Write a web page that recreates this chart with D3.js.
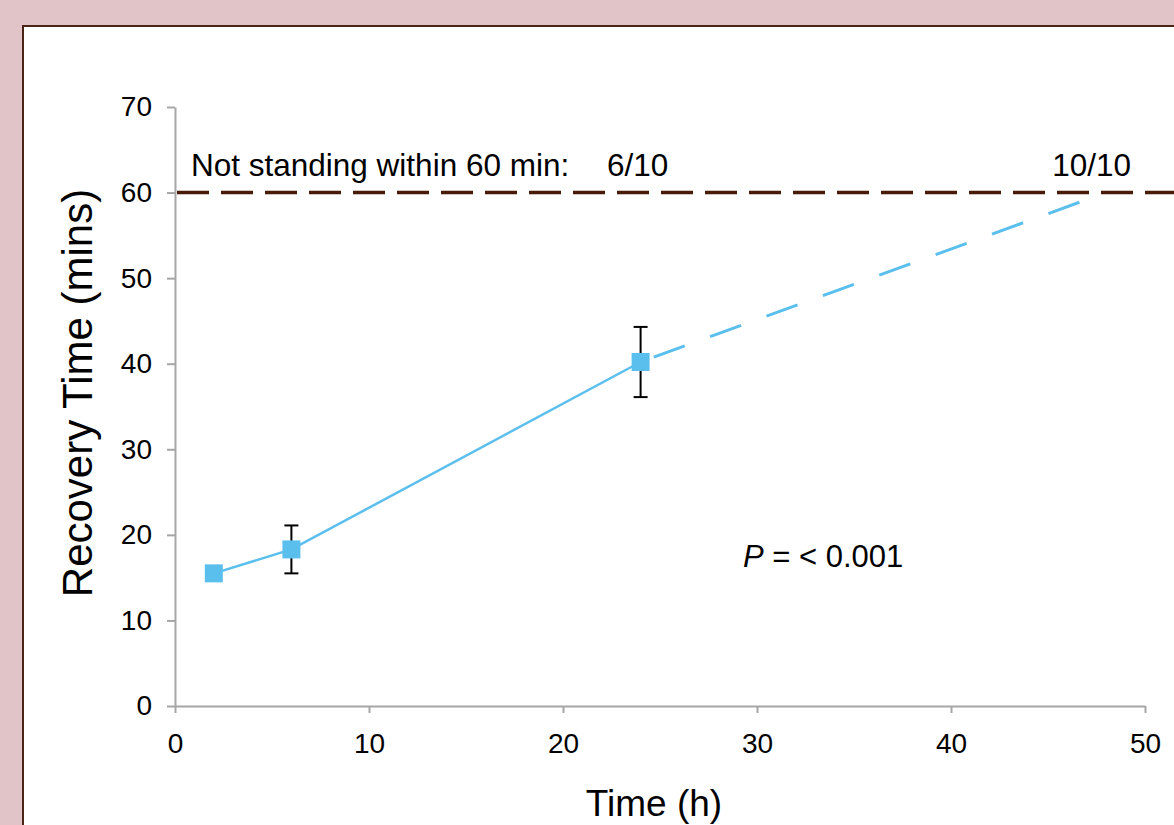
<!DOCTYPE html>
<html>
<head>
<meta charset="utf-8">
<script src="https://cdn.jsdelivr.net/npm/d3@7"></script>
<style>
	body{margin:0;background:#e0c4c8;font-family:"Liberation Sans",Arial,sans-serif;}
	#chart{width:1174px;height:825px;}
</style>
</head>
<body>
<div id="chart"></div>
<script>
// measured points
var times=[2,6,24]
var recovery=[15.5,18.3,40.2]
var errors=[0,2.8,4.1]
// projected line toward the 60 min cutoff
var projTimes=[24,46.9]
var projRecovery=[40.2,59.1]
var cutoff=60
var xTicks=[0,10,20,30,40,50]
var yTicks=[0,10,20,30,40,50,60,70]

var svg=d3.select("#chart").append("svg")
	.attr("width",1174)
	.attr("height",825)
	.attr("font-family","Liberation Sans, Arial, sans-serif")

// white panel
svg.append("rect")
	.attr("x",23).attr("y",26)
	.attr("width",1200).attr("height",900)
	.attr("fill","white")
	.attr("stroke","#4a2418")
	.attr("stroke-width",2)

var x=d3.scaleLinear().domain([0,50]).range([175,1145])
var y=d3.scaleLinear().domain([0,70]).range([706,107])

var gx=svg.append("g")
	.attr("transform","translate(0,"+y(0)+")")
	.call(d3.axisBottom(x).tickValues(xTicks).tickSize(7).tickSizeOuter(0).tickPadding(20))
var gy=svg.append("g")
	.attr("transform","translate("+x(0)+",0)")
	.call(d3.axisLeft(y).tickValues(yTicks).tickSize(8).tickSizeOuter(0).tickPadding(15))

svg.selectAll(".domain,.tick line").attr("stroke","#a6a6a6").attr("stroke-width",2)
svg.selectAll(".tick text").attr("font-size",28).attr("fill","black")
	.attr("font-family","Liberation Sans, Arial, sans-serif")
gx.selectAll(".tick text").attr("dy","0.71em")

// cutoff line
svg.append("line")
	.attr("x1",x(0)+2).attr("x2",1174)
	.attr("y1",y(cutoff)).attr("y2",y(cutoff))
	.attr("stroke","#4a1a08")
	.attr("stroke-width",3.5)
	.attr("stroke-dasharray","32,12")

var pts=times.map((t,i)=>({t:t,v:recovery[i],e:errors[i]}))
var line=d3.line().x(d=>x(d.t)).y(d=>y(d.v))

svg.append("path")
	.datum(projTimes.map((t,i)=>({t:t,v:projRecovery[i]})))
	.attr("d",line)
	.attr("fill","none")
	.attr("stroke","#5bbfee")
	.attr("stroke-width",3)
	.attr("stroke-dasharray","0,14,33,13")

svg.append("path")
	.datum(pts)
	.attr("d",line)
	.attr("fill","none")
	.attr("stroke","#5bbfee")
	.attr("stroke-width",2.5)

// error bars
var eb=svg.selectAll(".err").data(pts.filter(d=>d.e>0)).enter().append("g")
eb.append("line")
	.attr("x1",d=>x(d.t)).attr("x2",d=>x(d.t))
	.attr("y1",d=>y(d.v+d.e)).attr("y2",d=>y(d.v-d.e))
	.attr("stroke","black").attr("stroke-width",2)
eb.selectAll(".cap").data(d=>[d.v+d.e,d.v-d.e].map(v=>({t:d.t,v:v}))).enter().append("line")
	.attr("x1",d=>x(d.t)-7).attr("x2",d=>x(d.t)+7)
	.attr("y1",d=>y(d.v)).attr("y2",d=>y(d.v))
	.attr("stroke","black").attr("stroke-width",2)

svg.selectAll(".pt").data(pts).enter().append("rect")
	.attr("x",d=>x(d.t)-9).attr("y",d=>y(d.v)-9)
	.attr("width",18).attr("height",18)
	.attr("fill","#5bbfee")

// labels
svg.append("text").attr("x",191).attr("y",176)
	.attr("font-size",31.5).text("Not standing within 60 min:")
svg.append("text").attr("x",607).attr("y",176)
	.attr("font-size",31.5).text("6/10")
svg.append("text").attr("x",1131).attr("y",176).attr("text-anchor","end")
	.attr("font-size",31.5).text("10/10")

var p=svg.append("text").attr("x",743).attr("y",567).attr("font-size",31)
p.append("tspan").attr("font-style","italic").text("P")
p.append("tspan").text(" = < 0.001")

svg.append("text")
	.attr("transform","translate(92,"+393+") rotate(-90)")
	.attr("text-anchor","middle")
	.attr("font-size",42)
	.text("Recovery Time (mins)")
svg.append("text")
	.attr("x",654).attr("y",816)
	.attr("text-anchor","middle")
	.attr("font-size",37)
	.text("Time (h)")
</script>
</body>
</html>
